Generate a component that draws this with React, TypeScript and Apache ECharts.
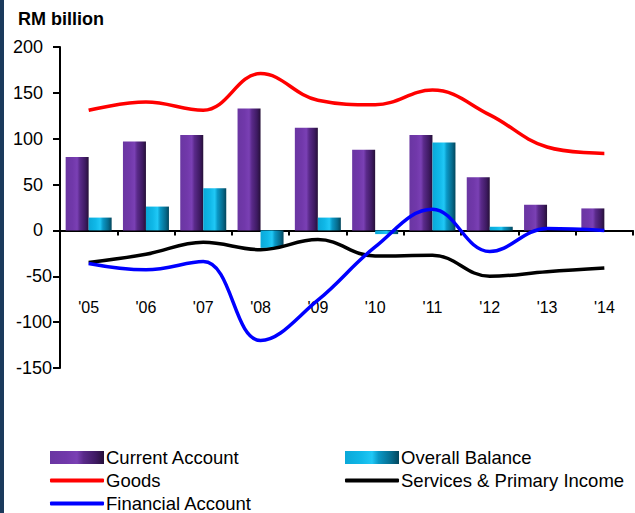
import React, { useEffect, useRef } from "react";
import * as echarts from "echarts";

const categories = ["'05", "'06", "'07", "'08", "'09", "'10", "'11", "'12", "'13", "'14"];
const currentAccount = [80, 97, 104, 133, 112, 88, 104, 58, 28, 24];
const overallBalance = [14, 26, 46, -19, 14, -4, 96, 4, 0, 0];
const goods = [131, 140, 131, 171, 142, 137, 153, 126, 91, 84];
const servicesPrimary = [-35, -26, -13, -21, -10, -28, -27, -50, -45, -41];
const financialAccount = [-36, -43, -34, -120, -76, -18, 23, -23, 2, 0];
const yTicks = { min: -150, max: 200, interval: 50 };

const FONT = "Liberation Sans, Arial, sans-serif";

export default function App() {
  const ref = useRef<HTMLDivElement>(null);
  useEffect(() => {
    if (!ref.current) return;
    const chart = echarts.init(ref.current, null, { renderer: "svg" });
    const purple = new echarts.graphic.LinearGradient(0, 0, 1, 0, [
      { offset: 0, color: "#6a36a2" },
      { offset: 0.3, color: "#7138aa" },
      { offset: 0.5, color: "#7a40b4" },
      { offset: 0.62, color: "#5a2a8a" },
      { offset: 0.85, color: "#3e1a62" },
      { offset: 1, color: "#261038" },
    ]);
    const cyan = new echarts.graphic.LinearGradient(0, 0, 1, 0, [
      { offset: 0, color: "#0aa8d8" },
      { offset: 0.3, color: "#10b8e8" },
      { offset: 0.5, color: "#20c8f6" },
      { offset: 0.62, color: "#0a98c6" },
      { offset: 0.85, color: "#066c8e" },
      { offset: 1, color: "#03465c" },
    ]);
    const mkLegend = (name: string, left: number, top: number, isLine: boolean) => ({
      left,
      top,
      padding: 0,
      orient: "horizontal" as const,
      itemWidth: 54,
      itemHeight: isLine ? 4 : 13,
      icon: isLine ? "roundRect" : "rect",
      data: [name],
      textStyle: { fontFamily: FONT, fontSize: 18.5, color: "#000", lineHeight: 18, padding: [0, 0, 0, -3] },
    });
    chart.setOption({
      animation: false,
      backgroundColor: "#fff",
      title: {
        text: "RM billion",
        left: 13,
        top: 5,
        textStyle: { fontFamily: FONT, fontSize: 18, fontWeight: "bold", color: "#000" },
      },
      grid: { left: 60, right: 2, top: 47, bottom: 145, containLabel: false },
      legend: [
        mkLegend("Current Account", 50, 448, false),
        mkLegend("Goods", 50, 471, true),
        mkLegend("Financial Account", 50, 494, true),
        mkLegend("Overall Balance", 345, 448, false),
        mkLegend("Services & Primary Income", 345, 471, true),
      ],
      xAxis: {
        type: "category",
        data: categories,
        axisLine: { onZero: true, lineStyle: { color: "#000", width: 2 } },
        axisTick: { show: true, length: 5, lineStyle: { color: "#000", width: 2 } },
        axisLabel: { margin: -69, fontFamily: FONT, fontSize: 16, color: "#000" },
      },
      yAxis: {
        type: "value",
        min: yTicks.min,
        max: yTicks.max,
        interval: yTicks.interval,
        splitLine: { show: false },
        axisLine: { show: true, lineStyle: { color: "#000", width: 2 } },
        axisTick: { show: true, length: 7, lineStyle: { color: "#000", width: 2 } },
        axisLabel: {
          margin: 8,
          fontFamily: FONT,
          fontSize: 18,
          color: "#000",
          formatter: (v: number) => (v < 0 ? `{n|${v}}` : `{p|${v}}`),
          rich: {
            n: { fontFamily: FONT, fontSize: 18, color: "#000" },
            p: { fontFamily: FONT, fontSize: 18, color: "#000", padding: [0, 9, 0, 0] },
          },
        },
      },
      series: [
        {
          name: "Current Account",
          type: "bar",
          data: currentAccount,
          barWidth: 23,
          barGap: "0%",
          itemStyle: { color: purple },
        },
        {
          name: "Overall Balance",
          type: "bar",
          data: overallBalance,
          barWidth: 23,
          barGap: "0%",
          itemStyle: { color: cyan },
        },
        {
          name: "Goods",
          type: "line",
          data: goods,
          smooth: 0.4,
          symbol: "none",
          lineStyle: { color: "#ff0000", width: 3.5 },
          itemStyle: { color: "#ff0000" },
          z: 5,
        },
        {
          name: "Services & Primary Income",
          type: "line",
          data: servicesPrimary,
          smooth: 0.4,
          symbol: "none",
          lineStyle: { color: "#000", width: 3.5 },
          itemStyle: { color: "#000" },
          z: 5,
        },
        {
          name: "Financial Account",
          type: "line",
          data: financialAccount,
          smooth: 0.4,
          symbol: "none",
          lineStyle: { color: "#0000ff", width: 3.5 },
          itemStyle: { color: "#0000ff" },
          z: 6,
        },
      ],
    });
    return () => chart.dispose();
  }, []);
  return (
    <div style={{ position: "fixed", left: 0, top: 0, width: 635, height: 513, background: "#fff" }}>
      <div ref={ref} style={{ position: "absolute", left: 0, top: 0, width: 635, height: 513 }} />
      <div style={{ position: "absolute", left: 0, top: 0, width: 4, height: 513, background: "#1b3a5c" }} />
    </div>
  );
}
